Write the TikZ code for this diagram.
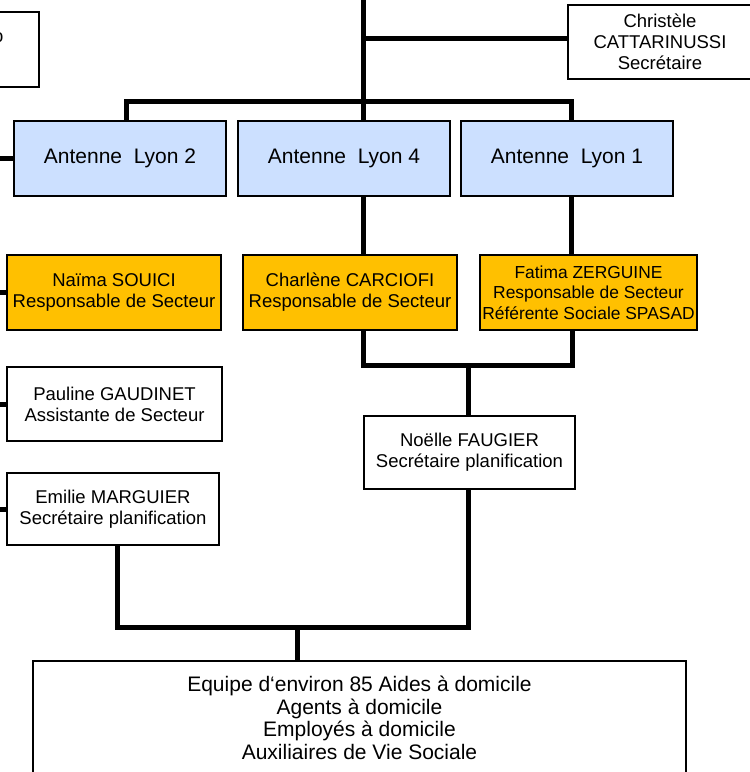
\documentclass[tikz,border=0pt]{standalone}
\usepackage{fontspec}
\setmainfont{Liberation Sans}
\definecolor{blueA}{RGB}{204,224,255}
\definecolor{orangeA}{RGB}{255,192,0}
\begin{document}
\begin{tikzpicture}[x=1pt,y=-1pt,
  box/.style={draw=black, line width=1.5pt, rectangle, inner sep=0pt, align=center,
    font=\fontsize{18.5}{20.8}\selectfont, text=black},
  antenne/.style={box, fill=blueA, minimum width=212pt, minimum height=75pt,
    font=\fontsize{21}{24}\selectfont},
  resp/.style={box, fill=orangeA, minimum height=75pt},
  plainbox/.style={box, fill=white},
  link/.style={line width=5pt, line join=miter}]
\useasboundingbox (0,0) rectangle (750,772);
\clip (0,0) rectangle (750,772);

% nodes
\node[plainbox, minimum width=139pt, minimum height=75pt] (tl) at (-30.5,49.5) {};
\node[anchor=east, inner sep=0pt, font=\fontsize{18.5}{21}\selectfont] (tltxt) at (3.5,38) {o};
\node[plainbox, minimum width=184pt, minimum height=74pt] (chr) at (660,42)
  {Christèle\\CATTARINUSSI\\Secrétaire};

\node[antenne] (l2) at (120,158.5) {Antenne\ \ Lyon 2};
\node[antenne] (l4) at (344,158.5) {Antenne\ \ Lyon 4};
\node[antenne] (l1) at (567,158.5) {Antenne\ \ Lyon 1};

\node[resp, minimum width=214pt] (naima) at (114,292.5) {Naïma SOUICI\\Responsable de Secteur};
\node[resp, minimum width=214pt] (charl) at (350,292.5) {Charlène CARCIOFI\\Responsable de Secteur};
\node[resp, minimum width=217pt, font=\fontsize{17.4}{20.5}\selectfont] (fatima) at (588.5,292.5)
  {Fatima ZERGUINE\\Responsable de Secteur\\Référente Sociale SPASAD};

\node[plainbox, minimum width=215pt, minimum height=74pt] (pauline) at (114.5,404)
  {Pauline GAUDINET\\Assistante de Secteur};
\node[plainbox, minimum width=212pt, minimum height=72pt] (emilie) at (113,509)
  {Emilie MARGUIER\\Secrétaire planification};
\node[plainbox, minimum width=211pt, minimum height=73pt] (noelle) at (469.5,452.5)
  {Noëlle FAUGIER\\Secrétaire planification};

\node[plainbox, minimum width=653pt, minimum height=139pt] (team) at (359.5,730.5) {};
\node[align=center, inner sep=0pt, font=\fontsize{21}{22.5}\selectfont] (teamtxt) at (359.5,718)
  {Equipe d‘environ 85 Aides à domicile\\Agents à domicile\\Employés à domicile\\Auxiliaires de Vie Sociale};

% coordinates
\coordinate (top) at (363,-5);
\coordinate (chrj) at (363,38);
\coordinate (bar2) at (126,101);
\coordinate (bar1) at (571,101);
\coordinate (left) at (-5,0);
\coordinate (jr) at (363,365);
\coordinate (jm) at (468,365);
\coordinate (jl) at (572,365);
\coordinate (bl) at (117,627);
\coordinate (bm) at (297,627);
\coordinate (br) at (468,627);

% connectors
\draw[link] (top) -- (top |- l4.north);
\draw[link] (chrj) -- (chr.west |- chrj);
\draw[link] (l2.north -| bar2) -- (bar2) -- (bar1) -- (l1.north -| bar1);
\draw[link] (l2.west) -- (l2.west -| left);
\draw[link] (naima.west) -- (naima.west -| left);
\draw[link] (pauline.west) -- (pauline.west -| left);
\draw[link] (emilie.west) -- (emilie.west -| left);
\draw[link] (l4.south -| jr) -- (charl.north -| jr);
\draw[link] (l1.south -| bar1) -- (fatima.north -| bar1);
\draw[link] (charl.south -| jr) -- (jr) -- (jl) -- (fatima.south -| jl);
\draw[link] (jm) -- (noelle.north -| jm);
\draw[link] (noelle.south -| br) -- (br) -- (bl) -- (emilie.south -| bl);
\draw[link] (bm) -- (team.north -| bm);
\end{tikzpicture}
\end{document}
